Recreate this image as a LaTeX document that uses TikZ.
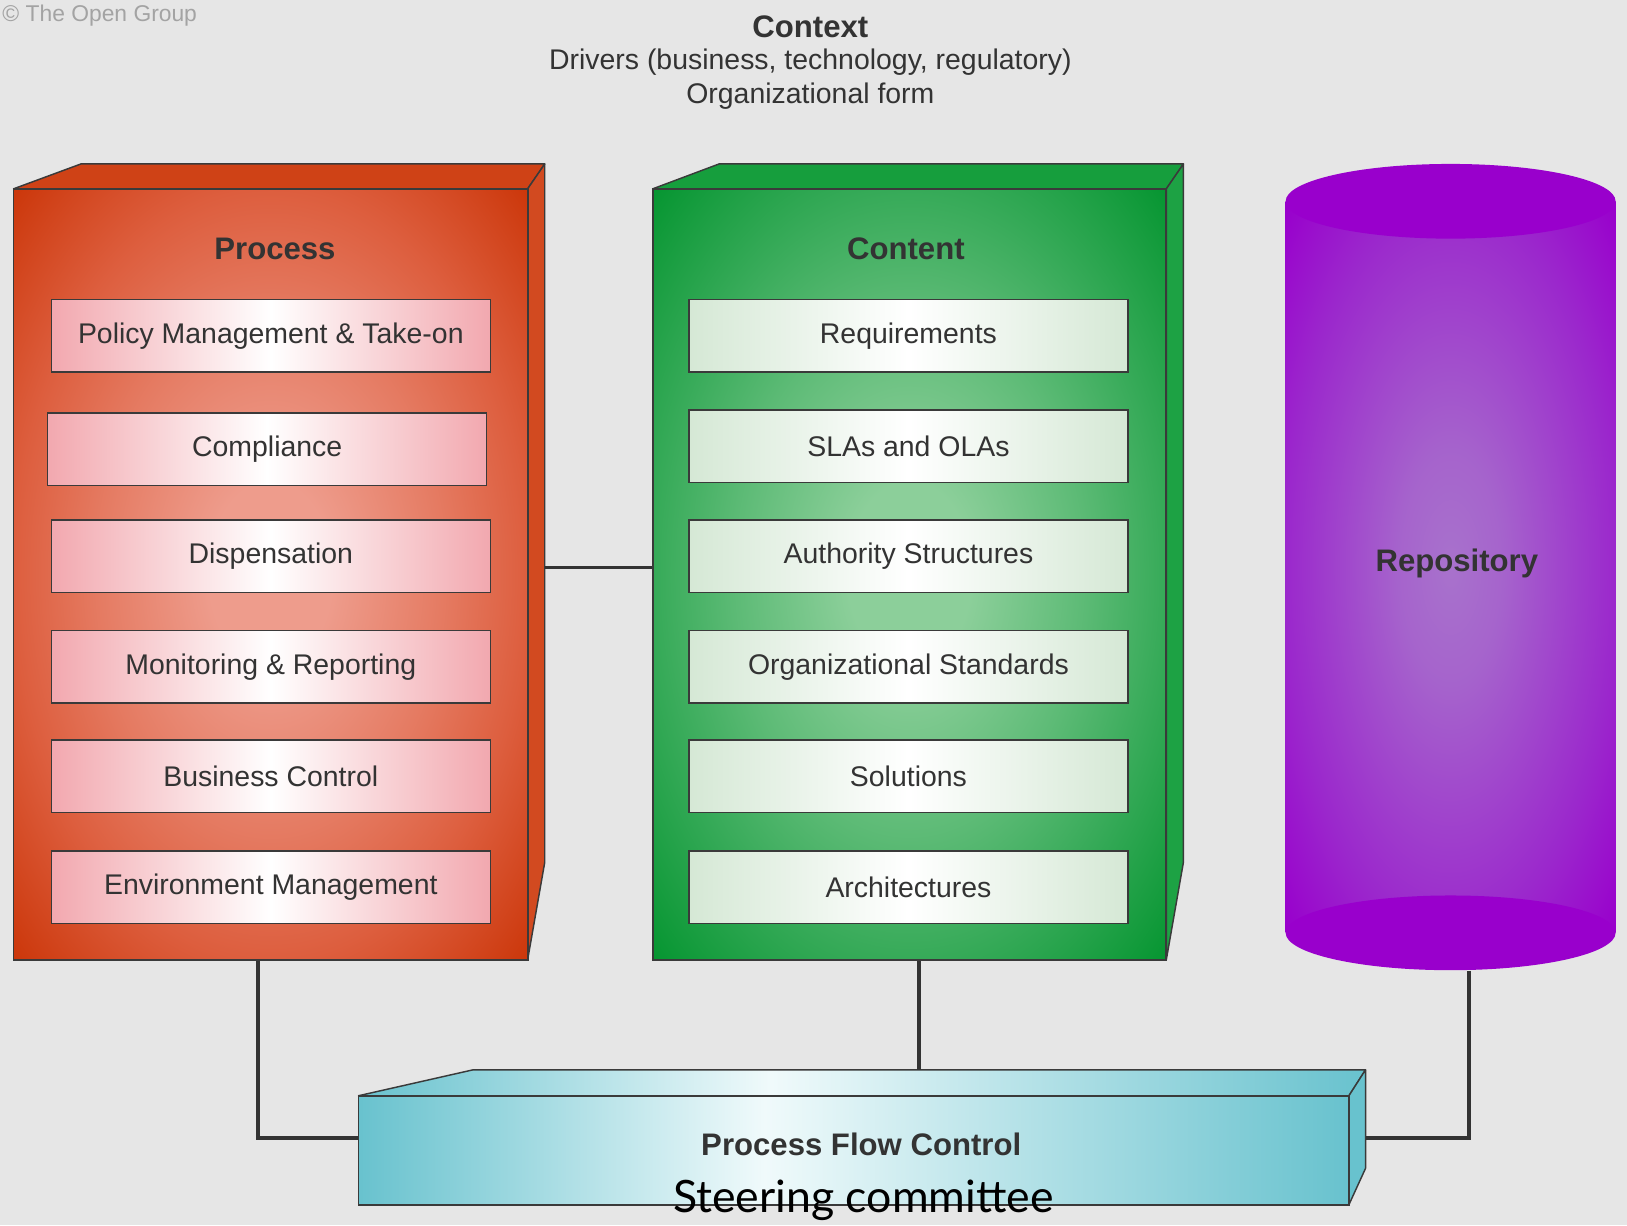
\documentclass[tikz,border=0pt]{standalone}
\usepackage{fontspec}
\setmainfont{Liberation Sans}
\newfontfamily\steerfont{Lato}
\usetikzlibrary{calc}

\definecolor{bgcol}{HTML}{E6E6E6}
\definecolor{edgecol}{HTML}{3A3A3A}
\definecolor{txtcol}{HTML}{333333}
\definecolor{copycol}{HTML}{A3A3A3}
\definecolor{linkcol}{HTML}{333333}
\definecolor{procin}{HTML}{EE9C8C}
\definecolor{procmid}{HTML}{DD5E3E}
\definecolor{procout}{HTML}{CC380C}
\definecolor{proctop}{HTML}{CF4216}
\definecolor{procside}{HTML}{D24A20}
\definecolor{itempink}{HTML}{F2A8AF}
\definecolor{contin}{HTML}{8CCF9A}
\definecolor{contmid}{HTML}{36AA58}
\definecolor{contout}{HTML}{079632}
\definecolor{conttop}{HTML}{169E3D}
\definecolor{contside}{HTML}{1DA244}
\definecolor{itemgreen}{HTML}{D5E8D5}
\definecolor{repoin}{HTML}{A872CC}
\definecolor{repomid}{HTML}{9B28CC}
\definecolor{repoout}{HTML}{9900CC}
\definecolor{pfcedge}{HTML}{68C2CE}
\definecolor{pfcmid}{HTML}{F0FAFB}

% the path covers the middle half of each shading (25bp to 75bp)
\pgfdeclareradialshading{procglow}{\pgfpoint{0bp}{0bp}}{color(0bp)=(procin); color(6bp)=(procin); color(17bp)=(procin!45!procmid); color(25bp)=(procmid); color(35bp)=(procout); color(50bp)=(procout)}
\pgfdeclareradialshading{contglow}{\pgfpoint{0bp}{0bp}}{color(0bp)=(contin); color(6bp)=(contin); color(17bp)=(contin!45!contmid); color(25bp)=(contmid); color(35bp)=(contout); color(50bp)=(contout)}
\pgfdeclareradialshading{repoglow}{\pgfpoint{0bp}{0bp}}{color(0bp)=(repoin); color(8bp)=(repoin!80!repomid); color(25bp)=(repomid); color(35bp)=(repoout); color(50bp)=(repoout)}
\pgfdeclarehorizontalshading{pfcband}{100bp}{color(0bp)=(pfcedge); color(25bp)=(pfcedge); color(45.5bp)=(pfcmid); color(75bp)=(pfcedge); color(100bp)=(pfcedge)}

\begin{document}
\begin{tikzpicture}[x=0.5pt,y=-0.5pt,
    front/.style={draw=edgecol,line width=0.9pt,inner sep=0pt},
    face/.style={draw=edgecol,line width=0.7pt,line join=round},
    boxitem/.style={draw=edgecol,line width=0.7pt,minimum width=211.5pt,minimum height=35pt,inner sep=0pt,text=txtcol,font=\fontsize{13.7}{16}\selectfont},
    pinkitem/.style={boxitem,left color=itempink,right color=itempink,middle color=white},
    greenitem/.style={boxitem,left color=itemgreen,right color=itemgreen,middle color=white},
    heading/.style={text=txtcol,font=\bfseries\fontsize{15}{18}\selectfont},
    plaintext/.style={text=txtcol,font=\fontsize{13.7}{16}\selectfont},
    link/.style={draw=linkcol,line width=1.8pt}]
    \useasboundingbox[fill=bgcol] (0,0) rectangle (1568,1181);

    % context
    \node[anchor=west,inner sep=0pt,text=copycol,font=\fontsize{11}{13}\selectfont] (copy) at (2,15) {© The Open Group};
    \node[heading] (ctx) at (781,26) {Context};
    \node[plaintext] (drivers) at (781,60) {Drivers (business, technology, regulatory)};
    \node[plaintext] (orgform) at (781,93) {Organizational form};

    % process
    \draw[face,fill=proctop] (13,182) -- (78,158) -- (525,158) -- (508.5,182) -- cycle;
    \draw[face,fill=procside] (508.5,182) -- (525,158) -- (525,831) -- (508.5,925) -- cycle;
    \node[front,shade,shading=procglow,minimum width=247.75pt,minimum height=371.5pt] (proc) at (260.75,553.5) {};
    \node[heading] (proctitle) at (265,240) {Process};
    \node[pinkitem] (p1) at (261,323.5) {Policy Management \& Take-on};
    \node[pinkitem] (p2) at (257.5,433) {Compliance};
    \node[pinkitem] (p3) at (261,536) {Dispensation};
    \node[pinkitem] (p4) at (261,642.5) {Monitoring \& Reporting};
    \node[pinkitem] (p5) at (261,748) {Business Control};
    \node[pinkitem] (p6) at (261,855) {Environment Management};

    % content
    \draw[face,fill=conttop] (629,182) -- (693,158) -- (1140.5,158) -- (1124,182) -- cycle;
    \draw[face,fill=contside] (1124,182) -- (1140.5,158) -- (1140.5,831) -- (1124,925) -- cycle;
    \node[front,shade,shading=contglow,minimum width=247.5pt,minimum height=371.5pt] (cont) at (876.5,553.5) {};
    \node[heading] (conttitle) at (873,240) {Content};
    \node[greenitem] (c1) at (875.5,323.5) {Requirements};
    \node[greenitem] (c2) at (875.5,430) {SLAs and OLAs};
    \node[greenitem] (c3) at (875.5,536) {Authority Structures};
    \node[greenitem] (c4) at (875.5,642.5) {Organizational Standards};
    \node[greenitem] (c5) at (875.5,748) {Solutions};
    \node[greenitem] (c6) at (875.5,855) {Architectures};

    % repository
    \node[minimum width=159pt,minimum height=388.5pt,inner sep=0pt] (repo) at (1398,546.5) {};
    \shade[shading=repoglow] (1239,194) rectangle (1557,899);
    \fill[repoout] (1398,899) ellipse [x radius=159,y radius=36];
    \fill[repoout] (1398,194) ellipse [x radius=159,y radius=36];
    \node[heading] (repotitle) at (1404,543) {Repository};

    % process flow control
    \shade[face,shading=pfcband] (345.5,1056) -- (456,1031) -- (1316,1031) -- (1300,1056) -- cycle;
    \draw[face,fill=pfcedge] (1300,1056) -- (1316,1031) -- (1316,1126) -- (1300,1161) -- cycle;
    \node[front,shade,shading=pfcband,minimum width=477.25pt,minimum height=52.5pt] (pfc) at (822.75,1108.5) {};
    \node[heading] (pfctitle) at (830,1103) {Process Flow Control};
    \node[font=\steerfont\fontsize{21.5}{26}\selectfont] (steer) at (832,1157) {Steering committee};

    % links
    \coordinate (procedge) at (525,547);
    \coordinate (pfcback) at (885.5,1031);
    \coordinate (pfcright) at (1316,1097);
    \draw[link] (procedge) -- (procedge -| cont.west);
    \draw[link] ([xshift=-6pt]proc.south) |- ([yshift=5.75pt]pfc.west);
    \draw[link] (pfcback |- cont.south) -- (pfcback);
    \draw[link] ([xshift=9pt]repo.south) |- (pfcright);
\end{tikzpicture}
\end{document}
